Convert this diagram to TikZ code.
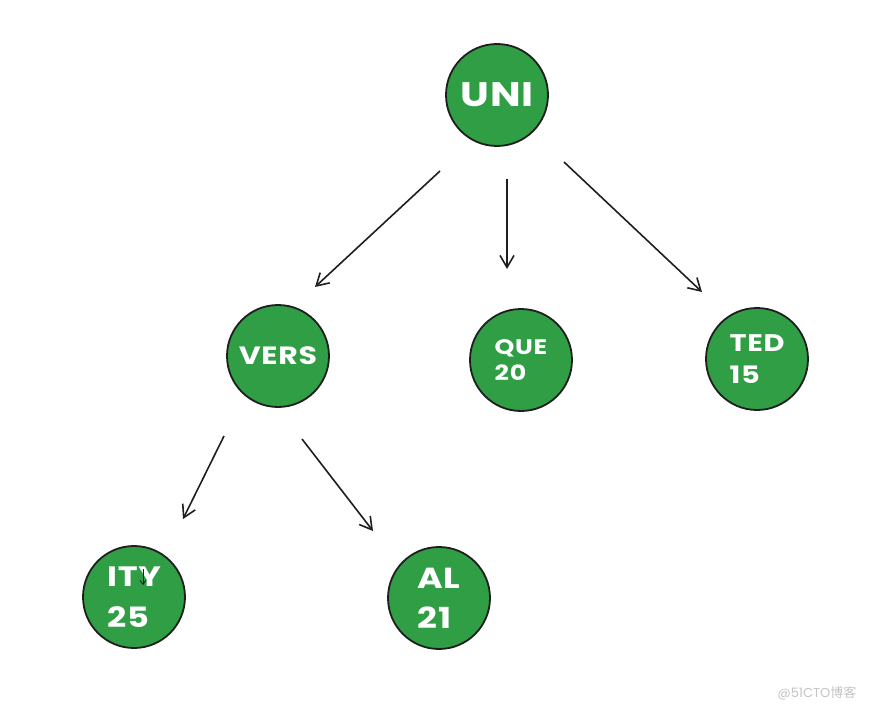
\documentclass[tikz,border=0pt]{standalone}
\usepackage{fontspec}
\setmainfont{Poppins}
\newfontfamily\handfont[FakeStretch=1.2,LetterSpace=3]{Poppins}
\newfontfamily\cjkfont{Noto Sans CJK SC}
\usepackage{xcolor}
\usetikzlibrary{arrows.meta}
\definecolor{leafgreen}{HTML}{2F9E44}
\definecolor{inkgray}{HTML}{1E1E1E}
\definecolor{markgray}{HTML}{C4C4C4}

\begin{document}
\begin{tikzpicture}[x=1pt,y=-1pt,
  >={Straight Barb[length=12pt,width=14pt,line width=1.6pt]},
  tnode/.style={circle,draw=inkgray,line width=1.8pt,fill=leafgreen,minimum size=102pt,inner sep=0pt,text=white,align=left},
  link/.style={->,inkgray,line width=1.6pt}]
  \useasboundingbox (0,0) rectangle (875,711);
  % tree nodes
  \node[tnode,font=\handfont\bfseries\fontsize{34}{36}\selectfont] (uni) at (497,95) {UNI};
  \node[tnode,font=\handfont\bfseries\fontsize{25}{30}\selectfont] (vers) at (278,356) {VERS};
  \node[tnode,font=\handfont\bfseries\fontsize{21}{26}\selectfont] (que) at (521,360) {QUE\\20};
  \node[tnode,font=\handfont\bfseries\fontsize{24}{32}\selectfont] (ted) at (757,359) {TED\\15};
  \node[tnode,font=\handfont\bfseries\fontsize{28}{41}\selectfont] (ity) at (134,597) {ITY\\25};
  \node[tnode,font=\handfont\bfseries\fontsize{29}{40}\selectfont] (al) at (439,598) {AL\\21};
  % arrow ends
  \coordinate (uni-a) at ([shift={(-57,76)}]uni.center);
  \coordinate (uni-b) at ([shift={(10,84)}]uni.center);
  \coordinate (uni-c) at ([shift={(67,67)}]uni.center);
  \coordinate (vers-in) at ([shift={(37,-69)}]vers.center);
  \coordinate (vers-a) at ([shift={(-54,80)}]vers.center);
  \coordinate (vers-b) at ([shift={(24,83)}]vers.center);
  \coordinate (que-in) at ([shift={(0,-91)}]uni-b |- que.center);
  \coordinate (ted-in) at ([shift={(-55,-67)}]ted.center);
  \coordinate (ity-in) at ([shift={(49,-78)}]ity.center);
  \coordinate (al-in) at ([shift={(-66,-67)}]al.center);
  \draw[link] (uni-a) -- (vers-in);
  \draw[link] (uni-b) -- (que-in);
  \draw[link] (uni-c) -- (ted-in);
  \draw[link] (vers-a) -- (ity-in);
  \draw[link] (vers-b) -- (al-in);
  % stray mark inside ITY
  \coordinate (ity-m1) at ([shift={(9,-28)}]ity.center);
  \coordinate (ity-m2) at ([shift={(9,-12)}]ity.center);
  \draw[->,>={Straight Barb[length=4pt,width=6pt,line width=0.8pt]},inkgray,line width=0.9pt] (ity-m1) -- (ity-m2);
  % watermark
  \node[text=markgray,font=\fontsize{13}{15}\selectfont,inner sep=0pt] (mark) at (817,693) {@51CTO{\cjkfont 博客}};
\end{tikzpicture}
\end{document}
